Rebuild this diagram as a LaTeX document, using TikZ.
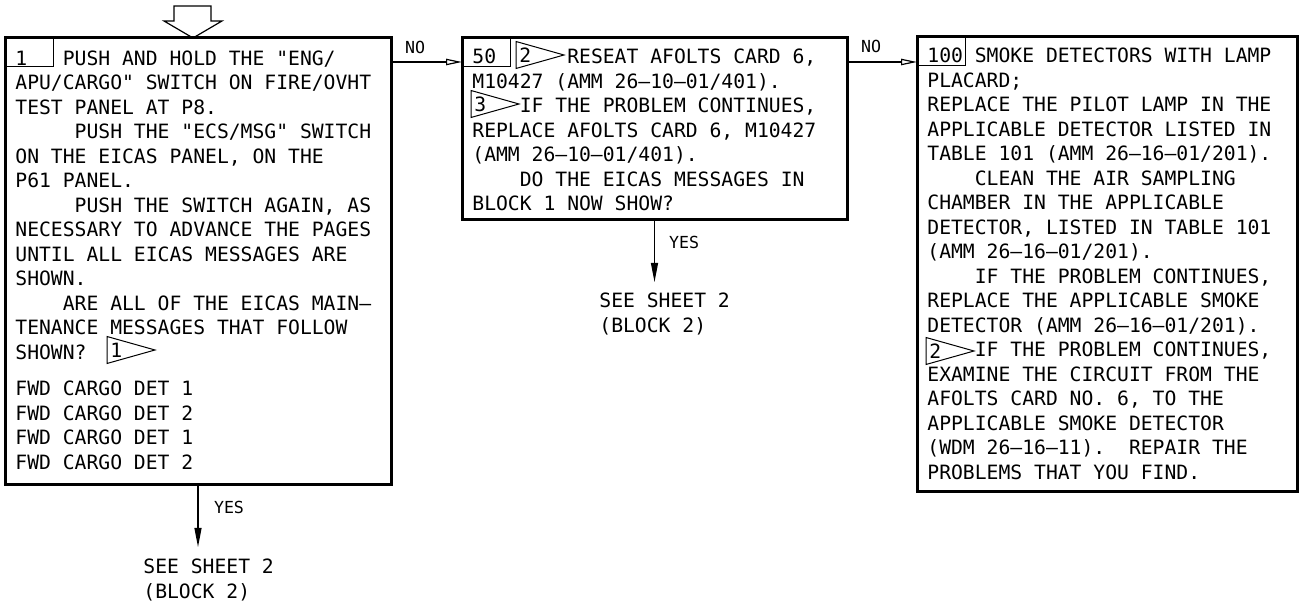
\documentclass[tikz,border=0pt]{standalone}
\usepackage{fontspec}
\setmonofont{DejaVu Sans Mono}
\usetikzlibrary{arrows.meta}
\frenchspacing

\tikzset{
    stepbox/.style={draw, line width=1.5pt, rectangle, outer sep=0pt, inner sep=0pt},
    numbox/.style={draw, line width=0.5pt, rectangle, outer sep=0pt, inner sep=0pt,
        minimum width=24pt, minimum height=14.5pt, anchor=north west},
    boxtext/.style={anchor=base west, inner sep=0pt, text width=190pt, align=flush left,
        font=\fontsize{9.85pt}{12.25pt}\selectfont\ttfamily},
    flagnum/.style={anchor=west, inner sep=0pt,
        font=\fontsize{9.85pt}{12.25pt}\selectfont\ttfamily},
    lbl/.style={inner sep=0pt, font=\fontsize{8.3pt}{10pt}\selectfont\ttfamily},
    noarrow/.style={line width=0.6pt, -{Triangle[open, length=8pt, width=3.2pt]}},
    yesarrow/.style={line width=0.6pt, -{Triangle[length=9.5pt, width=3.5pt]}}
}

\begin{document}
\begin{tikzpicture}[x=0.5pt, y=-0.5pt]
    \useasboundingbox (0,0) rectangle (1302,603);

    % Entry arrow
    \draw[line width=0.6pt] (174,6) -- (211,6) -- (211,21) -- (222,21) -- (193,38)
        -- (164,21) -- (174,21) -- cycle;

    % Boxes
    \node[stepbox, minimum width=193pt, minimum height=223.5pt] (b1) at (198,261.5) {};
    \node[stepbox, minimum width=192.5pt, minimum height=91pt] (b2) at (654.5,129) {};
    \node[stepbox, minimum width=190pt, minimum height=227.5pt] (b3) at (1107,264.5) {};

    % Block numbers
    \node[numbox] (l1) at (b1.north west) {};
    \node[numbox] (l2) at (b2.north west) {};
    \node[numbox] (l3) at (b3.north west) {};

    % Block 1 text
    \node[boxtext] (t1) at (15,65.5) {1~~~PUSH AND HOLD THE "ENG/\\
APU/CARGO" SWITCH ON FIRE/OVHT\\
TEST PANEL AT P8.\\
\phantom{XXXXX}PUSH THE "ECS/MSG" SWITCH\\
ON THE EICAS PANEL, ON THE\\
P61 PANEL.\\
\phantom{XXXXX}PUSH THE SWITCH AGAIN, AS\\
NECESSARY TO ADVANCE THE PAGES\\
UNTIL ALL EICAS MESSAGES ARE\\
SHOWN.\\
\phantom{XXXX}ARE ALL OF THE EICAS MAIN–\\
TENANCE MESSAGES THAT FOLLOW\\
SHOWN?\\[6pt]
FWD CARGO DET 1\\
FWD CARGO DET 2\\
FWD CARGO DET 1\\
FWD CARGO DET 2};

    % Block 50 text
    \node[boxtext] (t2) at (472,64) {50~~~~~~RESEAT AFOLTS CARD 6,\\
M10427 (AMM 26–10–01/401).\\
\phantom{XXXX}IF THE PROBLEM CONTINUES,\\
REPLACE AFOLTS CARD 6, M10427\\
(AMM 26–10–01/401).\\
\phantom{XXXX}DO THE EICAS MESSAGES IN\\
BLOCK 1 NOW SHOW?};

    % Block 100 text
    \node[boxtext] (t3) at (927,63) {100 SMOKE DETECTORS WITH LAMP\\
PLACARD;\\
REPLACE THE PILOT LAMP IN THE\\
APPLICABLE DETECTOR LISTED IN\\
TABLE 101 (AMM 26–16–01/201).\\
\phantom{XXXX}CLEAN THE AIR SAMPLING\\
CHAMBER IN THE APPLICABLE\\
DETECTOR, LISTED IN TABLE 101\\
(AMM 26–16–01/201).\\
\phantom{XXXX}IF THE PROBLEM CONTINUES,\\
REPLACE THE APPLICABLE SMOKE\\
DETECTOR (AMM 26–16–01/201).\\
\phantom{XXXX}IF THE PROBLEM CONTINUES,\\
EXAMINE THE CIRCUIT FROM THE\\
AFOLTS CARD NO. 6, TO THE\\
APPLICABLE SMOKE DETECTOR\\
(WDM 26–16–11).~ REPAIR THE\\
PROBLEMS THAT YOU FIND.};

    % Note flags
    \foreach \fx/\fy/\fnum in {107/350/1, 516/55/2, 471/104/3, 926/351/2} {
        \draw[line width=0.5pt] (\fx,\fy-13.5) -- (\fx,\fy+13.5) -- (\fx+48,\fy) -- cycle;
        \node[flagnum] (flag\fx) at (\fx+3,\fy) {\fnum};
    }

    % NO branches
    \draw[noarrow] ([yshift=-12pt]b1.north east) -- ([yshift=-12pt]b1.north east -| b2.west);
    \node[lbl] (no1) at (415,47) {NO};
    \draw[noarrow] ([yshift=-12pt]b2.north east) -- ([yshift=-12pt]b2.north east -| b3.west);
    \node[lbl] (no2) at (871,46) {NO};

    % YES branches
    \coordinate (e1) at (198,547);
    \draw[yesarrow] (b1.south) -- (e1);
    \node[lbl] (yes1) at (229,507) {YES};
    \node[boxtext] (s1) at (143,574) {SEE SHEET 2\\(BLOCK 2)};

    \coordinate (e2) at (654.5,282);
    \draw[yesarrow] (b2.south) -- (e2);
    \node[lbl] (yes2) at (684,242) {YES};
    \node[boxtext] (s2) at (599,308) {SEE SHEET 2\\(BLOCK 2)};
\end{tikzpicture}
\end{document}
